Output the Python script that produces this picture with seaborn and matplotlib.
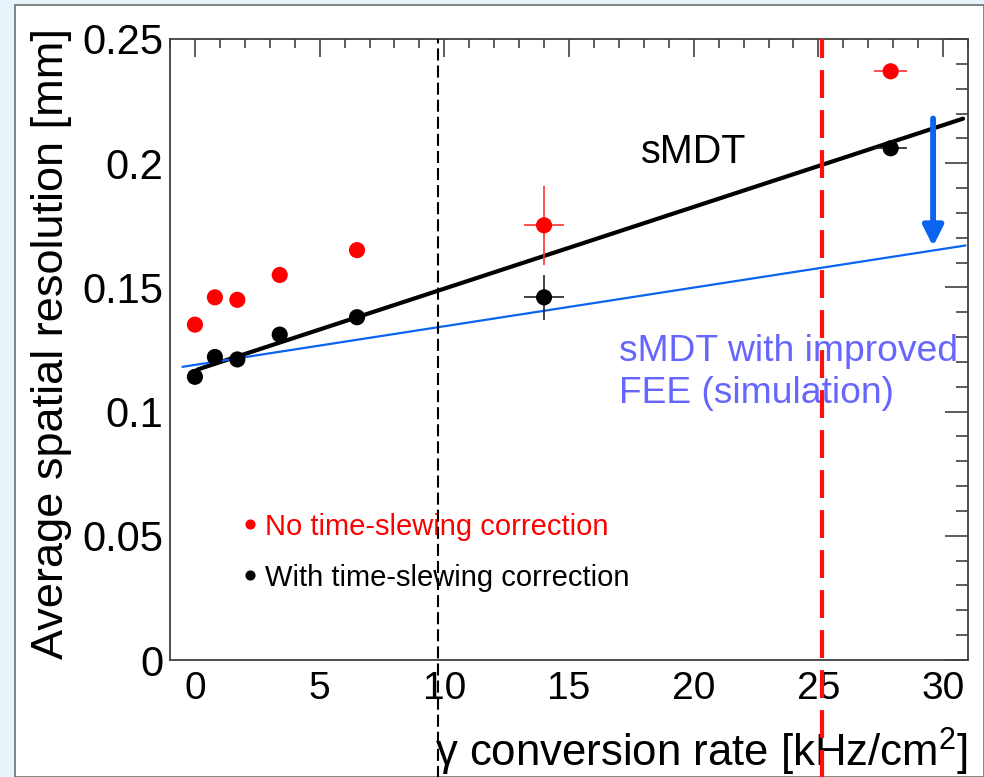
import matplotlib
matplotlib.use("Agg")
import matplotlib.pyplot as plt
import matplotlib.patches as mpatches
from matplotlib.ticker import MultipleLocator, FuncFormatter
import seaborn as sns
import numpy as np
import pandas as pd

# ---------------- data ----------------
rate = [0.0, 0.8, 1.7, 3.4, 6.5, 14.0, 27.9]
res_no_ts = [0.135, 0.146, 0.145, 0.155, 0.165, 0.175, 0.237]
res_with_ts = [0.114, 0.122, 0.121, 0.131, 0.138, 0.146, 0.206]
# error bars (only the last two points carry visible errors)
xerr_pts = [0, 0, 0, 0, 0, 0.8, 0.65]
yerr_no_ts = [0, 0, 0, 0, 0, 0.016, 0.0]
yerr_with_ts = [0, 0, 0, 0, 0, 0.009, 0.0]

# linear fits
smdt_fit = {"intercept": 0.1166, "slope": 0.00329, "x0": 0.1, "x1": 30.8}
fee_fit = {"intercept": 0.1188, "slope": 0.001556, "x0": -0.5, "x1": 30.9}

line_black_x = 9.74
line_red_x = 25.15

x_ticks = [0, 5, 10, 15, 20, 25, 30]
y_ticks = [0, 0.05, 0.1, 0.15, 0.2, 0.25]

# ---------------- style ----------------
sns.set_theme(style="white")
plt.rcParams["font.family"] = ["Liberation Sans", "DejaVu Sans"]
plt.rcParams["mathtext.fontset"] = "custom"
plt.rcParams["mathtext.rm"] = "Liberation Sans"
plt.rcParams["text.color"] = "black"

fig = plt.figure(figsize=(9.84, 7.77), dpi=100)
fig.patch.set_facecolor("#e8f4fc")
W, H = 984, 777
# white slide panel
panel = mpatches.Rectangle((15 / W, 0), 1 - 15 / W, 1 - 5 / H, transform=fig.transFigure,
                           facecolor="white", edgecolor="#707070", lw=1.2, zorder=-10)
fig.patches.append(panel)

ax = fig.add_axes([170 / W, 1 - 660 / H, (968 - 170) / W, (660 - 39) / H])
ax.set_zorder(5)
ax.set_facecolor("white")
ax.set_xlim(-1, 31)
ax.set_ylim(0, 0.25)

df_no = pd.DataFrame({"rate": rate, "res": res_no_ts})
df_with = pd.DataFrame({"rate": rate, "res": res_with_ts})

# error bars
ax.errorbar(rate, res_no_ts, xerr=xerr_pts, yerr=yerr_no_ts, fmt="none",
            ecolor="#ff3030", elinewidth=1.2, capsize=0, zorder=3)
ax.errorbar(rate, res_with_ts, xerr=xerr_pts, yerr=yerr_with_ts, fmt="none",
            ecolor="#202020", elinewidth=1.2, capsize=0, zorder=3)

# fit lines
for fit, col, lw in [(smdt_fit, "black", 3.0), (fee_fit, "#0a64f0", 1.6)]:
    xs = np.array([fit["x0"], fit["x1"]])
    dfl = pd.DataFrame({"x": xs, "y": fit["intercept"] + fit["slope"] * xs})
    sns.lineplot(data=dfl, x="x", y="y", ax=ax, color=col, lw=lw, zorder=2)

sns.scatterplot(data=df_no, x="rate", y="res", ax=ax, color="#ff0000", s=135,
                edgecolor="none", zorder=4)
sns.scatterplot(data=df_with, x="rate", y="res", ax=ax, color="black", s=135,
                edgecolor="none", zorder=4)

# vertical dashed lines extending below the frame
ax.axvline(line_black_x, ymin=-0.2, ymax=1, color="black", lw=1.5,
           dashes=(5.8, 2.4), clip_on=False, zorder=5)
ax.axvline(line_red_x, ymin=-0.2, ymax=1, color="#ff1010", lw=3,
           dashes=(6.7, 2.9), clip_on=False, zorder=5)

# arrow
ax.annotate("", xy=(29.6, 0.1665), xytext=(29.6, 0.218),
            arrowprops=dict(arrowstyle="-|>", color="#0a64f0", lw=4.2,
                            mutation_scale=30, shrinkA=0, shrinkB=0), zorder=6)

# texts
ax.text(20.0, 0.2044, "sMDT", fontsize=28.5, ha="center", va="center", color="black")
ax.text(17.0, 0.1242, "sMDT with improved", fontsize=26.8, ha="left", va="center",
        color="#6666ff")
ax.text(17.0, 0.1073, "FEE (simulation)", fontsize=26.8, ha="left", va="center",
        color="#6666ff")

# legend-like labels
ax.plot([2.2], [0.0548], "o", color="#ff0000", ms=6.3, zorder=6)
ax.text(2.8, 0.0536, "No time-slewing correction", fontsize=21, ha="left",
        va="center", color="#ff0000")
ax.plot([2.2], [0.0343], "o", color="black", ms=6.3, zorder=6)
ax.text(2.8, 0.0331, "With time-slewing correction", fontsize=21, ha="left",
        va="center", color="black")

# axes styling (ROOT-like)
ax.set_xlabel("")
ax.set_ylabel("")
ax.set_xticks(x_ticks)
ax.set_yticks(y_ticks)
ax.xaxis.set_minor_locator(MultipleLocator(1))
ax.yaxis.set_minor_locator(MultipleLocator(0.01))
ax.yaxis.set_major_formatter(FuncFormatter(lambda v, p: "%g" % round(v, 3)))
ax.tick_params(axis="both", which="both", direction="in", top=True, right=True,
               color="#303030", width=1.1, labelcolor="black")
ax.tick_params(axis="x", which="major", length=13, labelsize=28, pad=8)
ax.tick_params(axis="x", which="minor", length=6.5)
ax.tick_params(axis="y", which="major", length=16.5, labelsize=30, pad=5)
ax.tick_params(axis="y", which="minor", length=8.6)
for s in ax.spines.values():
    s.set_color("#404040")
    s.set_linewidth(1.3)

fig.text(968 / W, 1 - 767 / H, "γ conversion rate [kHz/cm$^{2}$]",
         fontsize=31.5, ha="right", va="baseline", color="black")
fig.text(52 / W, 1 - 28 / H, "Average spatial resolution [mm]", fontsize=32.5,
         rotation=90, ha="center", va="top", color="black")

fig.savefig("out.png", dpi=100, facecolor=fig.get_facecolor())
